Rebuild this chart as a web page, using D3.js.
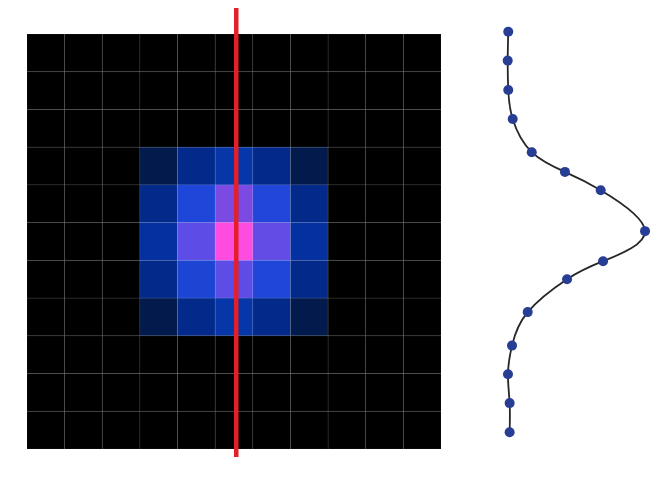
<!DOCTYPE html>
<html>
<head>
<meta charset="utf-8">
<script src="https://cdn.jsdelivr.net/npm/d3@7"></script>
<style>
  html, body { margin: 0; padding: 0; background: #ffffff; }
  svg { display: block; }
</style>
</head>
<body>
<svg id="chart" width="666" height="491"></svg>
<script>
// ---- data ----
const gridRows = d3.range(11);
const gridCols = d3.range(11);
// non-zero block (rows 3..7, cols 3..7), everything else is 0
const blockRows = [3, 4, 5, 6, 7];
const blockCols = [3, 4, 5, 6, 7];
const blockValues = [
  [0.10, 0.20, 0.28, 0.20, 0.10],
  [0.20, 0.40, 0.62, 0.41, 0.20],
  [0.25, 0.55, 1.00, 0.56, 0.25],
  [0.20, 0.39, 0.55, 0.40, 0.20],
  [0.10, 0.20, 0.28, 0.20, 0.10]
];
const colorStops = [0, 0.10, 0.20, 0.25, 0.28, 0.40, 0.55, 0.62, 1.0];
const colorValues = ["#000000", "#021a4c", "#032a8a", "#0530a0", "#0636a8", "#1e46d8", "#5e4ce6", "#7a4ae2", "#ff4ce0"];
const cutPosition = 5.56; // vertical cut, in cell units
// profile along the cut
const profilePos = [0, 1.01, 2.04, 3.05, 4.21, 4.90, 5.54, 6.97, 8.02, 8.65, 9.80, 10.97, 11.97, 12.98, 14.0];
const profileVal = [0.009, 0.005, 0.009, 0.041, 0.178, 0.417, 0.674, 0.993, 0.691, 0.432, 0.149, 0.036, 0.007, 0.019, 0.019];

// ---- build cell table ----
const cells = [];
gridRows.forEach(r => gridCols.forEach(c => {
  const bi = blockRows.indexOf(r), bj = blockCols.indexOf(c);
  const v = (bi >= 0 && bj >= 0) ? blockValues[bi][bj] : 0;
  cells.push({ r, c, v });
}));

const svg = d3.select("#chart");

// ---- heatmap ----
const x = d3.scaleBand().domain(gridCols).range([27, 441]);
const y = d3.scaleBand().domain(gridRows).range([34, 449]);
const color = d3.scaleLinear().domain(colorStops).range(colorValues).interpolate(d3.interpolateRgb).clamp(true);

svg.append("g").selectAll("rect").data(cells).join("rect")
  .attr("x", d => x(d.c))
  .attr("y", d => y(d.r))
  .attr("width", x.bandwidth())
  .attr("height", y.bandwidth())
  .attr("fill", d => color(d.v))
  .attr("stroke", "rgba(255,255,255,0.065)")
  .attr("stroke-width", 1);

// ---- cut line ----
const xc = d3.scaleLinear().domain([0, 11]).range([27, 441]);
svg.append("line")
  .attr("x1", xc(cutPosition)).attr("x2", xc(cutPosition))
  .attr("y1", 8).attr("y2", 457)
  .attr("stroke", "#e2202c")
  .attr("stroke-width", 4.5);

// ---- profile ----
const px = d3.scaleLinear().domain([0, 1]).range([507, 646]);
const py = d3.scaleLinear().domain([0, 14]).range([31.7, 432.3]);
const pts = profilePos.map((p, i) => [px(profileVal[i]), py(p)]);

svg.append("path")
  .attr("d", d3.line().curve(d3.curveNatural)(pts))
  .attr("fill", "none")
  .attr("stroke", "#262626")
  .attr("stroke-width", 1.8);

svg.append("g").selectAll("circle").data(pts).join("circle")
  .attr("cx", d => d[0])
  .attr("cy", d => d[1])
  .attr("r", 5)
  .attr("fill", "#283d94");
</script>
</body>
</html>
